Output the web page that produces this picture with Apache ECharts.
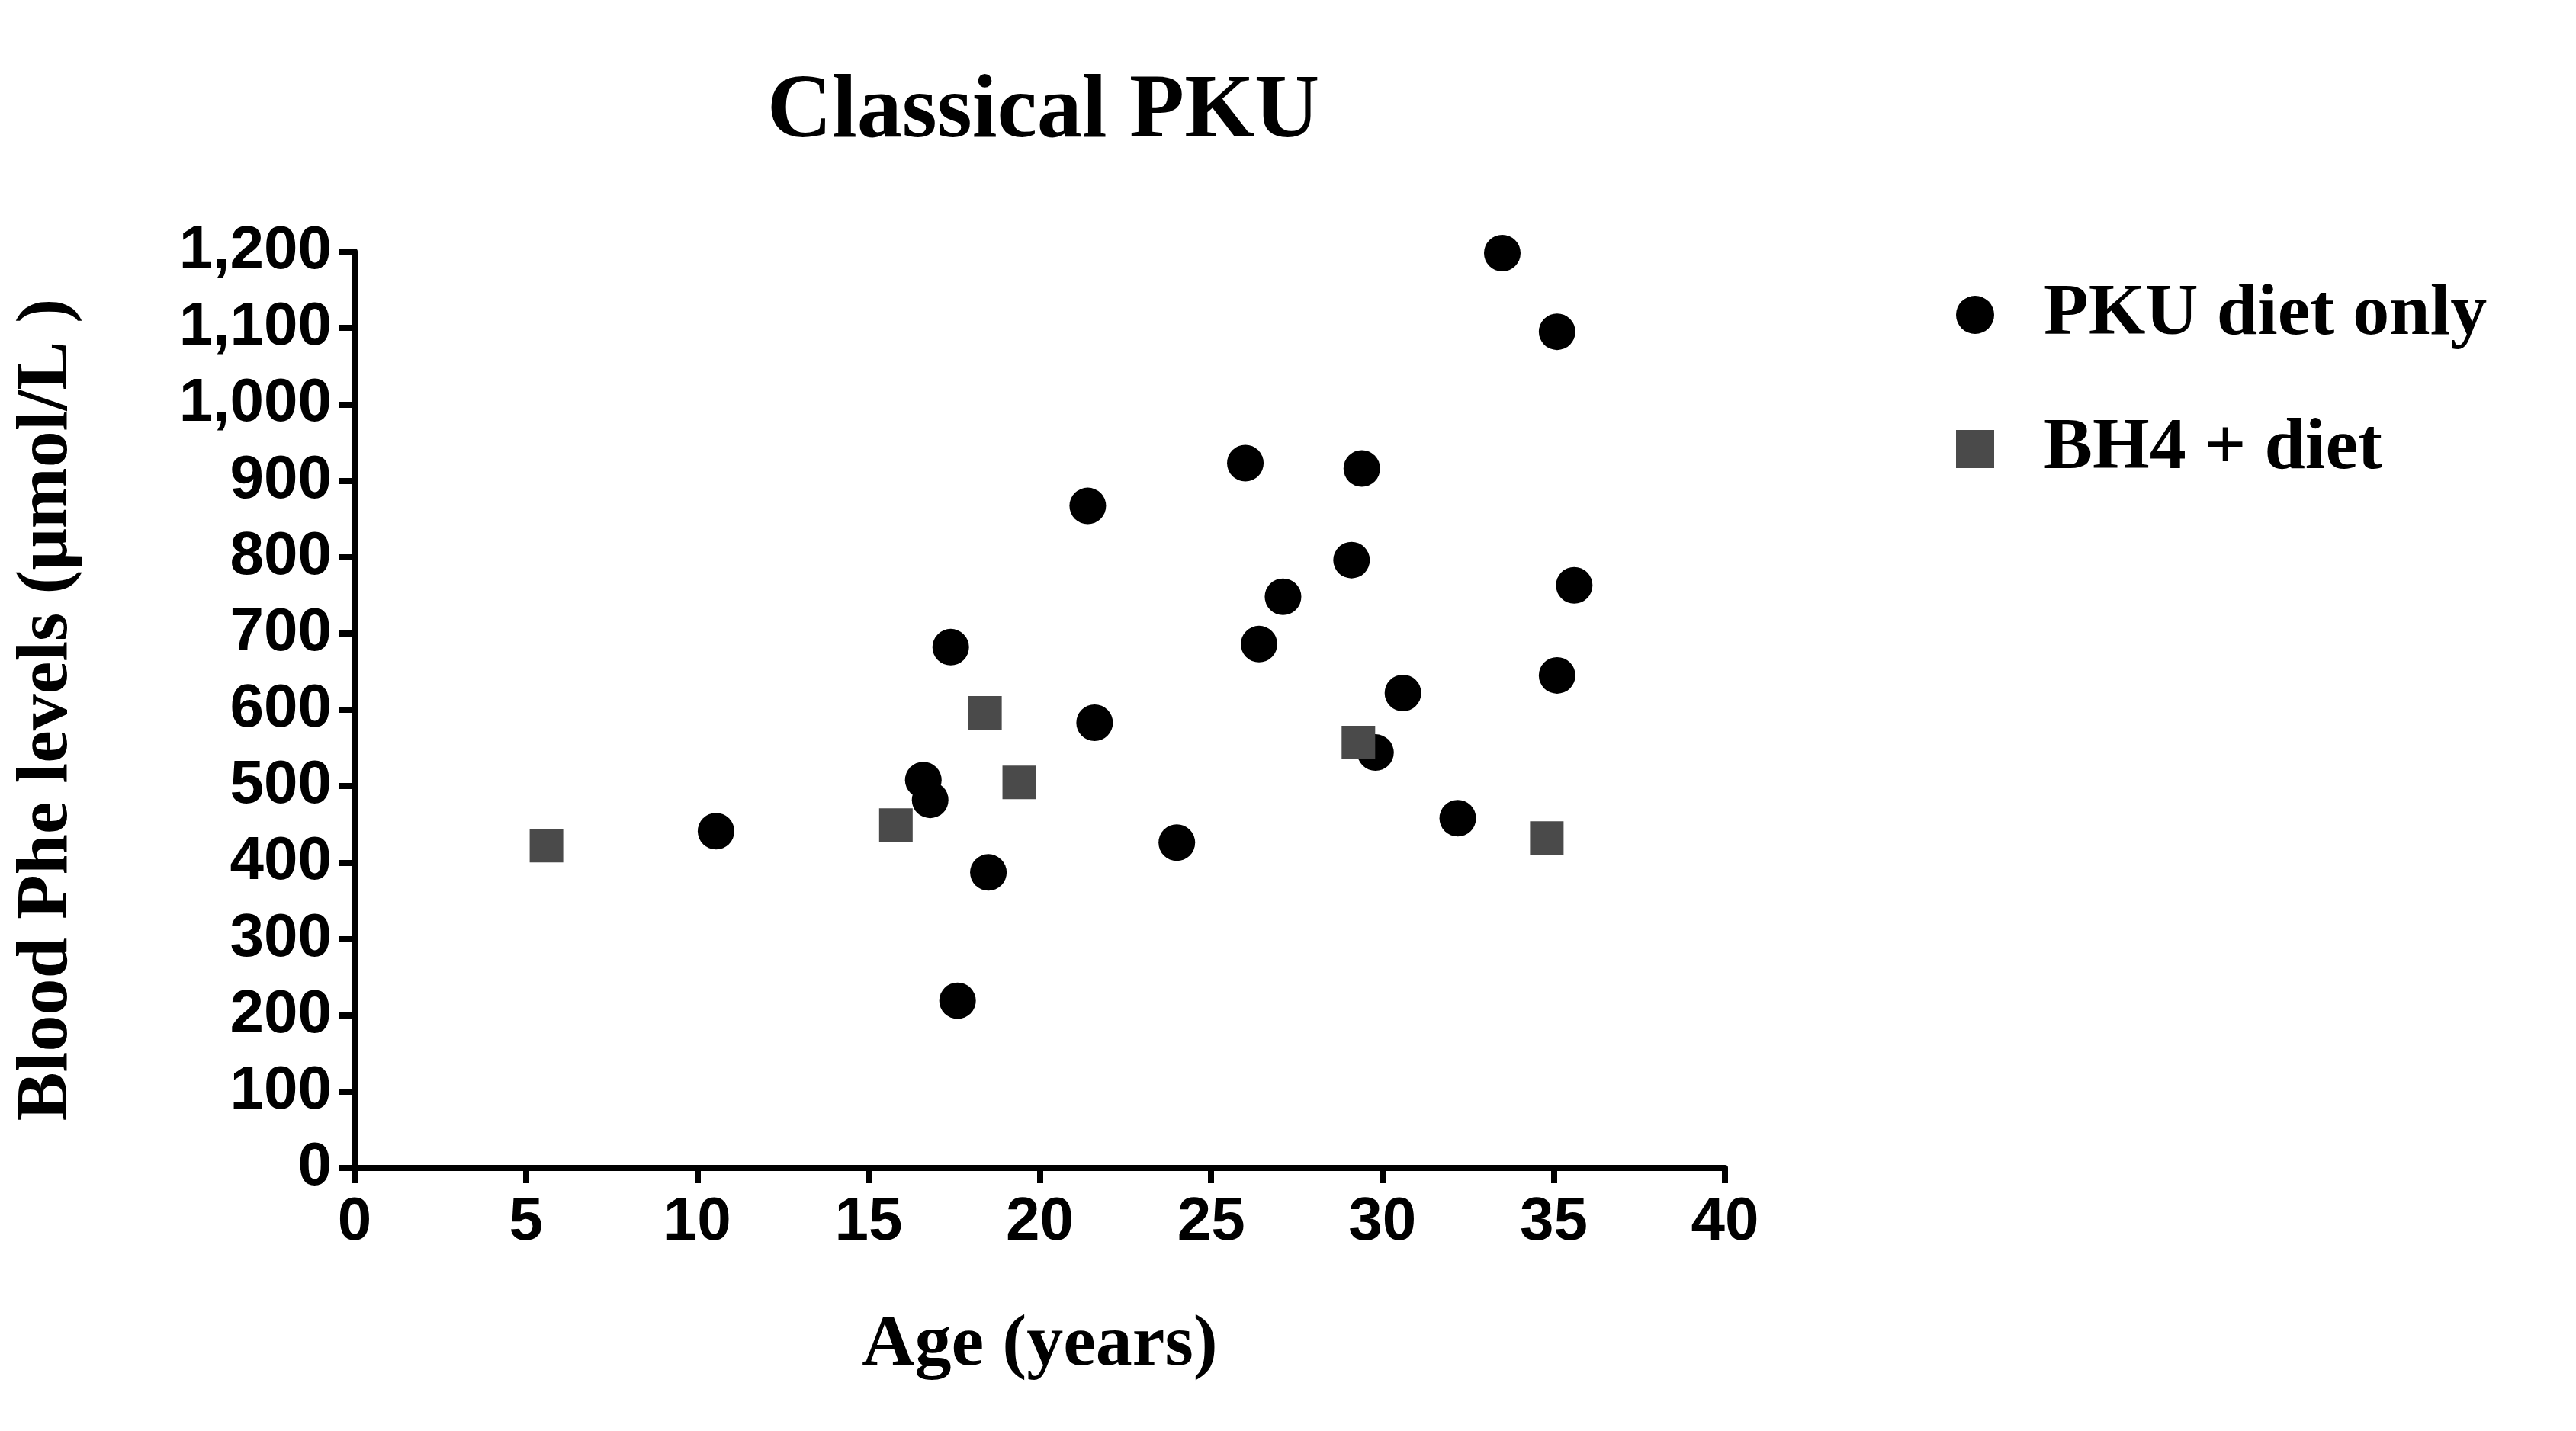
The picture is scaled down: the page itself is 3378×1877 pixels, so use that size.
<!DOCTYPE html>
<html>
<head>
<meta charset="utf-8">
<script src="https://cdn.jsdelivr.net/npm/echarts@6/dist/echarts.min.js"></script>
<style>html,body{margin:0;padding:0;background:#fff}#main{width:3378px;height:1877px}</style>
</head>
<body>
<div id="main"></div>
<script>
// age (years), blood Phe (umol/L)
var dietOnly = [
  [10.55, 441], [16.6, 508], [16.8, 482], [17.4, 682], [17.6, 219], [18.5, 387],
  [21.4, 867], [21.6, 583], [24.0, 426], [26.0, 923], [26.4, 686], [27.1, 748],
  [29.1, 796], [29.4, 916], [29.8, 544], [30.6, 622], [32.2, 458], [33.5, 1198],
  [35.1, 1095], [35.1, 645], [35.6, 763]
];
var bh4Diet = [
  [5.6, 422], [15.8, 449], [18.4, 596], [19.4, 505], [29.3, 557], [34.8, 432]
];
var seriesNames = ['PKU diet only', 'BH4 + diet'];

var chart = echarts.init(document.getElementById('main'));
var serif = 'Liberation Serif';
var axisFont = {fontFamily: 'Liberation Sans', fontWeight: 'bold', fontSize: 80, color: '#000'};
chart.setOption({
  animation: false,
  title: {
    text: 'Classical PKU', left: 1363, top: 85, textAlign: 'center',
    textStyle: {fontFamily: serif, fontWeight: 'bold', fontSize: 118, color: '#000'}
  },
  legend: {
    orient: 'vertical', left: 2560, top: 360, itemGap: 80, itemWidth: 50, itemHeight: 50,
    data: [{name: seriesNames[0], icon: 'circle'}, {name: seriesNames[1], icon: 'rect'}],
    textStyle: {fontFamily: serif, fontWeight: 'bold', fontSize: 96, color: '#000', padding: [0, 0, 0, 60]}
  },
  grid: {left: 465, right: 1116, top: 330, bottom: 345},
  xAxis: {
    type: 'value', min: 0, max: 40, interval: 5,
    name: 'Age (years)', nameLocation: 'middle', nameGap: 185,
    nameTextStyle: {fontFamily: serif, fontWeight: 'bold', fontSize: 96, color: '#000'},
    axisLine: {lineStyle: {color: '#000', width: 8}},
    axisTick: {length: 20, lineStyle: {color: '#000', width: 8}},
    axisLabel: Object.assign({margin: 32}, axisFont),
    splitLine: {show: false}
  },
  yAxis: {
    type: 'value', min: 0, max: 1200, interval: 100,
    name: 'Blood Phe levels (\u03bcmol/L )', nameLocation: 'middle', nameGap: 355,
    nameTextStyle: {fontFamily: serif, fontWeight: 'bold', fontSize: 96, color: '#000'},
    axisLine: {show: true, lineStyle: {color: '#000', width: 8}},
    axisTick: {show: true, length: 20, lineStyle: {color: '#000', width: 8}},
    axisLabel: Object.assign({margin: 30}, axisFont),
    splitLine: {show: false}
  },
  series: [
    {name: seriesNames[0], type: 'scatter', symbol: 'circle', symbolSize: 48,
     itemStyle: {color: '#000', opacity: 1}, data: dietOnly},
    {name: seriesNames[1], type: 'scatter', symbol: 'rect', symbolSize: 44,
     itemStyle: {color: '#4a4a4a', opacity: 1}, data: bh4Diet}
  ]
});
</script>
</body>
</html>
